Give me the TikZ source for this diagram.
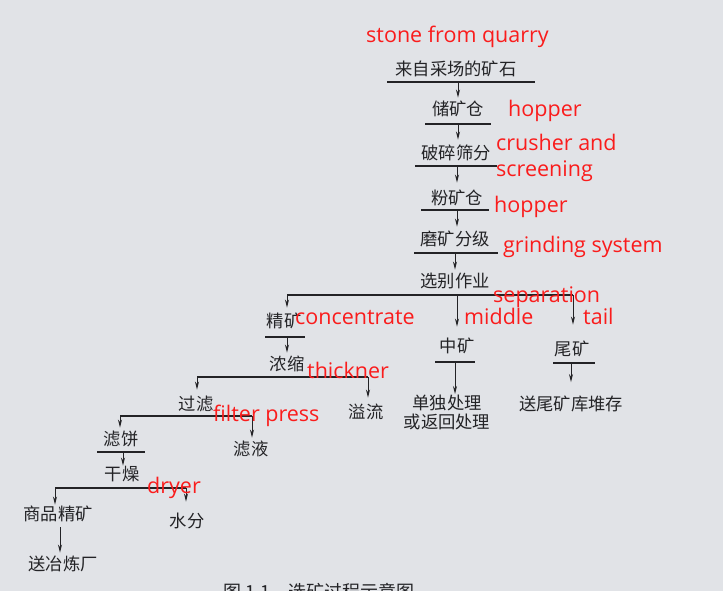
\documentclass[tikz,border=0pt]{standalone}
\usepackage{fontspec}
\newfontfamily\cjk{Noto Sans CJK SC}
\newfontfamily\lab{Open Sans}
\usetikzlibrary{arrows.meta}
\definecolor{paper}{RGB}{225,227,231}
\definecolor{ink}{RGB}{35,35,38}
\definecolor{note}{RGB}{250,28,28}
\begin{document}
\begin{tikzpicture}[x=1pt,y=-1pt,
  cnbase/.style={font=\cjk\fontsize{17.3}{19}\selectfont, text=ink, inner sep=0pt, align=center},
  cn/.style={cnbase, text height=13.5pt, text depth=2pt},
  en/.style={font=\lab\fontsize{21.5}{24}\selectfont, text=note, inner sep=0pt, anchor=base west},
  bar/.style={draw=ink, line width=1.1pt},
  arr/.style={draw=ink, line width=1.0pt, -{Stealth[length=8pt,width=4pt]}},
]
\clip (0,0) rectangle (723,591);
\fill[paper] (0,0) rectangle (723,591);

% Chinese process nodes
\node[cn] (n0) at (456,70) {来自采场的矿石};
\node[cn] (n1) at (458,110) {储矿仓};
\node[cn] (n2) at (456,154) {破碎筛分};
\node[cn] (n3) at (457,199) {粉矿仓};
\node[cn] (n4) at (455,240) {磨矿分级};
\node[cn] (n5) at (455,282) {选别作业};
\node[cn] (n6) at (284,322) {精矿};
\node[cn] (n7) at (287,365) {浓缩};
\node[cn] (n8) at (196,405) {过滤};
\node[cn] (n9) at (366,413) {溢流};
\node[cn] (n10) at (121,440) {滤饼};
\node[cn] (n11) at (251,450) {滤液};
\node[cn] (n12) at (122,475) {干燥};
\node[cn] (n13) at (58,515) {商品精矿};
\node[cn] (n14) at (187,522) {水分};
\node[cn] (n15) at (63,565) {送冶炼厂};
\node[cn] (n16) at (457,347) {中矿};
\node[cnbase, anchor=north] (n17) at (447,395) {单独处理\\或返回处理};
\node[cn] (n18) at (572,350) {尾矿};
\node[cn] (n19) at (571,405) {送尾矿库堆存};
\node[cnbase, font=\cjk\fontsize{18}{20}\selectfont, anchor=base west] (cap) at (223,598) {图 1.1\quad 选矿过程示意图};

% bars under nodes
\coordinate (b0l) at (387,82);  \coordinate (b0r) at (535,82);
\coordinate (b1l) at (425,124); \coordinate (b1r) at (491,124);
\coordinate (b2l) at (415,166); \coordinate (b2r) at (497,166);
\coordinate (b3l) at (421,210); \coordinate (b3r) at (489,210);
\coordinate (b4l) at (414,253); \coordinate (b4r) at (498,253);
\coordinate (b5l) at (287,295); \coordinate (b5r) at (573,295);
\coordinate (b6l) at (265,337); \coordinate (b6r) at (305,337);
\coordinate (b7l) at (197,377); \coordinate (b7r) at (368,377);
\coordinate (b8l) at (120,416); \coordinate (b8r) at (252,416);
\coordinate (b9l) at (97,452);  \coordinate (b9r) at (145,452);
\coordinate (b10l) at (55,488); \coordinate (b10r) at (186,488);
\coordinate (b16l) at (435,362); \coordinate (b16r) at (475,362);
\coordinate (b18l) at (553,363); \coordinate (b18r) at (595,363);
\foreach \b in {b0,b1,b2,b3,b4,b5,b6,b7,b8,b9,b10,b16,b18}
  \draw[bar] (\b l) -- (\b r);

% arrows
\draw[arr, shorten >=4.5pt] (b0l -| n1.north) -- (n1.north);
\draw[arr, shorten >=6.5pt] (b1l -| n1.north) -- (n1.north |- n2.north);
\draw[arr, shorten >=8.5pt] (b2l -| n3.north) -- (n3.north);
\draw[arr, shorten >=5.5pt] (b3l -| n3.north) -- (n3.north |- n4.north);
\draw[arr, shorten >=4.5pt] (b4l -| n5.north) -- (n5.north);
\draw[arr, shorten >=6.5pt] (b5l) -- (b5l |- n6.north);
\draw[arr, shorten >=12.5pt] (b5l -| n16.north) -- (n16.north);
\draw[arr, shorten >=17.5pt] (b5r) -- (b5r |- n18.north);
\draw[arr, shorten >=4.5pt] (b6l -| b5l) -- (b5l |- n7.north);
\draw[arr, shorten >=7.5pt] (b7l) -- (b7l |- n8.north);
\draw[arr, shorten >=7.5pt] (b7r) -- (b7r |- n9.north);
\draw[arr, shorten >=4.5pt] (b8l) -- (b8l |- n10.north);
\draw[arr, shorten >=4.5pt] (b8r) -- (b8r |- n11.north);
\draw[arr, shorten >=1.5pt] (b9l -| 123,0) -- (123,0 |- n12.north);
\draw[arr, shorten >=2.5pt] (b10l) -- (b10l |- n13.north);
\draw[arr, shorten >=12.5pt] (b10r) -- (b10r |- n14.north);
\draw[arr, shorten <=4.5pt, shorten >=4.5pt] (60,0 |- n13.south) -- (60,0 |- n15.north);
\draw[arr, shorten >=1pt] (b16l -| 455,0) -- (455,0 |- n17.north);
\draw[arr, shorten >=15pt] (b18l -| 571,0) -- (571,0 |- n19.north);

% red annotations
\node[en] (t0) at (366,43) {stone from quarry};
\node[en] (t1) at (508,117) {hopper};
\node[en] (t2) at (496,151) {crusher and};
\node[en] (t3) at (496,177) {screening};
\node[en] (t4) at (494,212) {hopper};
\node[en] (t5) at (503,252) {grinding system};
\node[en] (t6) at (493,302) {separation};
\node[en] (t7) at (295,324) {concentrate};
\node[en] (t8) at (464,324) {middle};
\node[en] (t9) at (583,324) {tail};
\node[en] (t10) at (307,378) {thickner};
\node[en] (t11) at (213,421) {filter press};
\node[en] (t12) at (147,493) {dryer};
\end{tikzpicture}
\end{document}
